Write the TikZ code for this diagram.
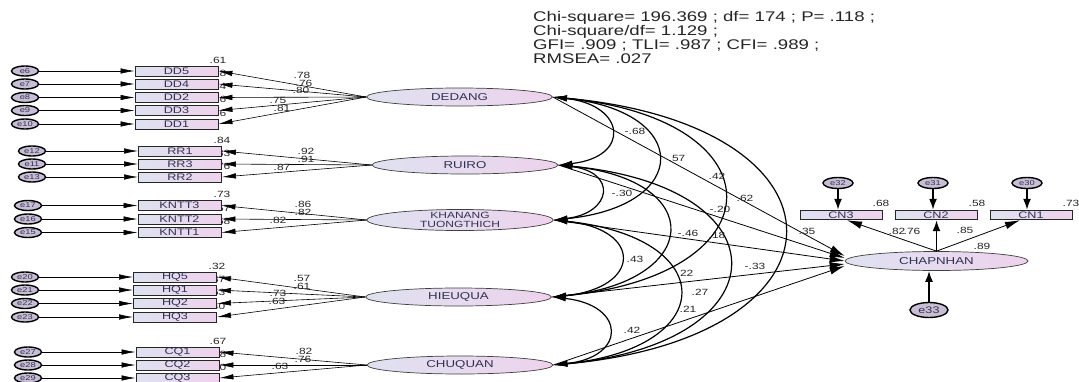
\documentclass[tikz,border=0pt]{standalone}
\usepackage{fontspec}
\setmainfont{Liberation Sans}
\usepackage{graphicx}
\usetikzlibrary{arrows.meta,shapes.geometric,calc}
\newcommand\wt[1]{\scalebox{1.33}[1]{#1}}
\definecolor{lblue}{RGB}{222,226,240}
\definecolor{lpink}{RGB}{238,210,236}
\definecolor{errfill}{RGB}{200,190,212}
\definecolor{txt}{RGB}{50,50,80}
\begin{document}
\begin{tikzpicture}[x=1pt,y=-1pt,
  box/.style={draw=black!85,line width=0.9pt,minimum width=83pt,minimum height=10pt,inner sep=0pt,
    left color=lblue,right color=lpink,font=\fontsize{9.5}{9.5}\selectfont,text=txt},
  cnbox/.style={box,minimum width=82pt,minimum height=9.5pt},
  latent/.style={ellipse,draw=black!75,line width=0.7pt,minimum width=186pt,minimum height=18pt,inner sep=0pt,
    left color=lblue,right color=lpink,font=\fontsize{10}{10}\selectfont,text=txt,align=center},
  err/.style={ellipse,draw=black,line width=1.4pt,fill=errfill,minimum width=27pt,minimum height=10pt,
    inner sep=0pt,font=\fontsize{7}{7}\selectfont,text=txt},
  lab/.style={font=\fontsize{9}{9}\selectfont,inner sep=0pt,text=black!85},
  arr/.style={-{Latex[length=14pt,width=5.5pt]},line width=0.6pt},
  thickarr/.style={-{Latex[length=11pt,width=8pt]},line width=1.7pt},
  cov/.style={{Latex[length=14pt,width=6pt]}-{Latex[length=14pt,width=6pt]},line width=1.2pt},
  reg/.style={-{Latex[length=15pt,width=7.5pt]},line width=0.8pt}]
\useasboundingbox (0,0) rectangle (1079,381);
\fill[white] (0,0) rectangle (1079,381);

% fit statistics
\node[anchor=north west,align=left,inner sep=0pt,font=\fontsize{14}{14}\selectfont,text=black!85] (fit) at (533,11)
 {\wt{Chi-square= 196.369 ; df= 174 ; P= .118 ;}\\
  \wt{Chi-square/df= 1.129 ;}\\
  \wt{GFI= .909 ; TLI= .987 ; CFI= .989 ;}\\
  \wt{RMSEA= .027}};

% squared multiple correlations (partly hidden behind boxes)
\node[lab] (r1) at (218,60) {\wt{.61}};
\node[lab] (r2) at (218,73) {\wt{.58}};
\node[lab] (r3) at (218,86.5) {\wt{.64}};
\node[lab] (r4) at (218,99.5) {\wt{.56}};
\node[lab] (r5) at (218,113) {\wt{.66}};
\node[lab] (r6) at (222,140) {\wt{.84}};
\node[lab] (r7) at (222,153) {\wt{.83}};
\node[lab] (r8) at (222,166) {\wt{.76}};
\node[lab] (r9) at (222,194.5) {\wt{.73}};
\node[lab] (r10) at (222,208) {\wt{.67}};
\node[lab] (r11) at (222,221.5) {\wt{.68}};
\node[lab] (r12) at (217,266) {\wt{.32}};
\node[lab] (r13) at (217,279) {\wt{.37}};
\node[lab] (r14) at (217,292.5) {\wt{.53}};
\node[lab] (r15) at (217,306) {\wt{.40}};
\node[lab] (r16) at (218,341) {\wt{.67}};
\node[lab] (r17) at (218,354) {\wt{.58}};
\node[lab] (r18) at (218,367) {\wt{.40}};

% DEDANG block
\node[box] (dd5) at (176.5,71) {\wt{DD5}};
\node[box] (dd4) at (176.5,84) {\wt{DD4}};
\node[box] (dd2) at (176.5,97.5) {\wt{DD2}};
\node[box] (dd3) at (176.5,110.5) {\wt{DD3}};
\node[box] (dd1) at (176.5,124) {\wt{DD1}};
\node[err] (e6) at (25,71) {\wt{e6}};
\node[err] (e7) at (25,84) {\wt{e7}};
\node[err] (e8) at (25,97.5) {\wt{e8}};
\node[err] (e9) at (25,110.5) {\wt{e9}};
\node[err] (e10) at (25,124) {\wt{e10}};
% RUIRO block
\node[box] (rr1) at (180,151) {\wt{RR1}};
\node[box] (rr3) at (180,164) {\wt{RR3}};
\node[box] (rr2) at (180,177) {\wt{RR2}};
\node[err] (e12) at (32,151) {\wt{e12}};
\node[err] (e11) at (32,164) {\wt{e11}};
\node[err] (e13) at (32,177) {\wt{e13}};
% KNTT block
\node[box] (kn3) at (179.5,205.5) {\wt{KNTT3}};
\node[box] (kn2) at (179.5,219) {\wt{KNTT2}};
\node[box] (kn1) at (179.5,232.5) {\wt{KNTT1}};
\node[err] (e17) at (28,205.5) {\wt{e17}};
\node[err] (e16) at (28,219) {\wt{e16}};
\node[err] (e15) at (28,232.5) {\wt{e15}};
% HIEUQUA block
\node[box] (hq5) at (175,277) {\wt{HQ5}};
\node[box] (hq1) at (175,290) {\wt{HQ1}};
\node[box] (hq2) at (175,303.5) {\wt{HQ2}};
\node[box] (hq3) at (175,317) {\wt{HQ3}};
\node[err] (e20) at (25,277) {\wt{e20}};
\node[err] (e21) at (25,290) {\wt{e21}};
\node[err] (e22) at (25,303.5) {\wt{e22}};
\node[err] (e23) at (25,317) {\wt{e23}};
% CHUQUAN block
\node[box] (cq1) at (177.5,352) {\wt{CQ1}};
\node[box] (cq2) at (177.5,365) {\wt{CQ2}};
\node[box] (cq3) at (177.5,378) {\wt{CQ3}};
\node[err] (e27) at (28,352) {\wt{e27}};
\node[err] (e28) at (28,365) {\wt{e28}};
\node[err] (e29) at (28,378) {\wt{e29}};

% error arrows
\foreach \e/\b in {e6/dd5,e7/dd4,e8/dd2,e9/dd3,e10/dd1,e12/rr1,e11/rr3,e13/rr2,e17/kn3,e16/kn2,e15/kn1,
  e20/hq5,e21/hq1,e22/hq2,e23/hq3,e27/cq1,e28/cq2,e29/cq3}
  \draw[arr] (\e) -- (\b);

% latent variables
\node[latent] (DD) at (459.5,97) {\wt{DEDANG}};
\node[latent] (RR) at (465,165) {\wt{RUIRO}};
\node[latent,minimum height=21pt,font=\fontsize{9}{8.5}\selectfont] (KN) at (460,220) {\wt{KHANANG}\\\wt{TUONGTHICH}};
\node[latent] (HQ) at (458.5,297) {\wt{HIEUQUA}};
\node[latent] (CQ) at (460,365) {\wt{CHUQUAN}};

% loadings
\foreach \l/\b in {DD/dd5,DD/dd4,DD/dd2,DD/dd3,DD/dd1,RR/rr1,RR/rr3,RR/rr2,KN/kn3,KN/kn2,KN/kn1,
  HQ/hq5,HQ/hq1,HQ/hq2,HQ/hq3,CQ/cq1,CQ/cq2,CQ/cq3}
  \draw[arr] (\l.west) -- (\b.east);
\node[lab] (l1) at (302,75.5) {\wt{.78}};
\node[lab] (l2) at (304,83) {\wt{.76}};
\node[lab] (l3) at (301,90.5) {\wt{.80}};
\node[lab] (l4) at (278,100) {\wt{.75}};
\node[lab] (l5) at (282,108) {\wt{.81}};
\node[lab] (l6) at (306,151) {\wt{.92}};
\node[lab] (l7) at (306,159) {\wt{.91}};
\node[lab] (l8) at (282,167) {\wt{.87}};
\node[lab] (l9) at (303,204) {\wt{.86}};
\node[lab] (l10) at (303,212) {\wt{.82}};
\node[lab] (l11) at (278,220.5) {\wt{.82}};
\node[lab] (l12) at (302,278.5) {\wt{.57}};
\node[lab] (l13) at (302,286.5) {\wt{.61}};
\node[lab] (l14) at (278,293) {\wt{.73}};
\node[lab] (l15) at (277,301) {\wt{.63}};
\node[lab] (l16) at (304,351) {\wt{.82}};
\node[lab] (l17) at (303,359) {\wt{.76}};
\node[lab] (l18) at (280,366.5) {\wt{.63}};

% CHAPNHAN block
\node[latent,minimum width=183pt,minimum height=19pt] (CH) at (936.5,261) {\wt{CHAPNHAN}};
\node[lab] (r19) at (881,203) {\wt{.68}};
\node[lab] (r20) at (977,203) {\wt{.58}};
\node[lab] (r21) at (1071,203) {\wt{.73}};
\node[cnbox] (cn3) at (841,215) {\wt{CN3}};
\node[cnbox] (cn2) at (936,215) {\wt{CN2}};
\node[cnbox] (cn1) at (1031,215) {\wt{CN1}};
\node[err,minimum width=30pt,minimum height=11pt] (e32) at (838,183) {\wt{e32}};
\node[err,minimum width=30pt,minimum height=11pt] (e31) at (933,183) {\wt{e31}};
\node[err,minimum width=30pt,minimum height=11pt] (e30) at (1027,183) {\wt{e30}};
\node[err,minimum width=38pt,minimum height=15pt,font=\fontsize{9.5}{9.5}\selectfont] (e33) at (929,310) {\wt{e33}};
\draw[thickarr] (e32) -- (e32 |- cn3.north);
\draw[thickarr] (e31) -- (e31 |- cn2.north);
\draw[thickarr] (e30) -- (e30 |- cn1.north);
\draw[thickarr] (e33) -- (e33 |- CH.south);
\draw[thickarr] (CH.north) -- (CH.north |- cn2.south);
\draw[reg] (CH.north) -- ($(cn3.south)+(6,0)$);
\draw[reg] (CH.north) -- ($(cn1.south)+(-11,0)$);
\node[lab] (l19) at (897,231) {\wt{.82}};
\node[lab] (l20) at (912,231) {\wt{.76}};
\node[lab] (l21) at (965,230) {\wt{.85}};
\node[lab] (r22) at (982,246) {\wt{.89}};

% covariances
\draw[cov] (DD.east) .. controls +(73,8) and +(73,-8) .. (RR.east);
\draw[cov] (RR.east) .. controls +(59,7) and +(59,-7) .. (KN.east);
\draw[cov] (KN.east) .. controls +(90,9) and +(90,-9) .. (HQ.east);
\draw[cov] (HQ.east) .. controls +(74,8) and +(74,-8) .. (CQ.east);
\draw[cov] (DD.east) .. controls +(139,14) and +(139,-14) .. (KN.east);
\draw[cov] (RR.east) .. controls +(150,15) and +(150,-15) .. (HQ.east);
\draw[cov] (KN.east) .. controls +(167,17) and +(167,-17) .. (CQ.east);
\draw[cov] (DD.east) .. controls +(228,22) and +(228,-22) .. (HQ.east);
\draw[cov] (RR.east) .. controls +(230,22) and +(230,-22) .. (CQ.east);
\draw[cov] (DD.east) .. controls +(307,28) and +(307,-28) .. (CQ.east);

% structural paths
\draw[reg] (DD.east) -- ($(CH.west)+(0,-5)$);
\draw[reg] (RR.east) -- ($(CH.west)+(0,-3)$);
\draw[reg] (KN.east) -- (CH.west);
\draw[reg] (HQ.east) -- ($(CH.west)+(0,3)$);
\draw[reg] (CQ.east) -- ($(CH.west)+(0,5)$);

% path labels
\node[lab] (c1) at (635,131) {\wt{-.68}};
\node[lab] (c2) at (677,158) {\wt{.57}};
\node[lab] (c3) at (745,198) {\wt{.62}};
\node[lab] (c4) at (807,231) {\wt{.35}};
\node[lab] (c5) at (622,193) {\wt{-.30}};
\node[lab] (c6) at (688,233) {\wt{-.46}};
\node[lab] (c7) at (755,266) {\wt{-.33}};
\node[lab] (c8) at (635,259) {\wt{.43}};
\node[lab] (c9) at (700,292) {\wt{.27}};
\node[lab] (c10) at (632,330) {\wt{.42}};
\node[lab] (p1) at (717,176) {\wt{.42}};
\node[lab] (p2) at (720,209) {\wt{-.20}};
\node[lab] (p3) at (717,235) {\wt{.18}};
\node[lab] (p4) at (685,273) {\wt{.22}};
\node[lab] (p5) at (688,309) {\wt{.21}};
\end{tikzpicture}
\end{document}
